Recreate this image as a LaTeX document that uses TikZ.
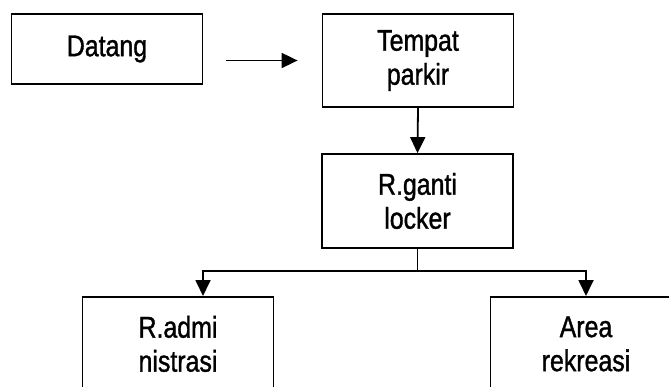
\documentclass[tikz,border=0pt]{standalone}
\usepackage{fontspec}
\setmainfont{Liberation Sans}[FakeStretch=0.83,FakeBold=1.2]
\usetikzlibrary{arrows.meta,calc}

\begin{document}
\begin{tikzpicture}[x=1pt,y=1pt,
    kotak/.style={draw,line width=1.8pt,align=center,minimum width=191pt,
        inner sep=0pt,font=\fontsize{30}{34}\selectfont},
    panah/.style={line width=1.8pt,-{Triangle[length=16pt,width=15pt]}}]
                \useasboundingbox (0,0) rectangle (669,386);
                \node[kotak,minimum height=70pt](dtg)at(107,337){Datang};
                \node[kotak,minimum height=93pt](tmp)at(418,325.5){Tempat\\parkir};
                \node[kotak,minimum height=94pt](rgl)at(417.5,185){R.ganti\\locker};
                \node[kotak,minimum height=94pt,anchor=north](adm)at(178,90){R.admi\\nistrasi};
                \node[kotak,minimum height=94pt,anchor=north](rek)at(586,90){Area\\rekreasi};%terpotong
                \draw[panah]($(dtg.east|-tmp.west)+(23,0)$)--($(tmp.west)+(-24,0)$);
                \draw[panah](tmp.south)--(rgl.north);
                \draw[panah](rgl.south)--++(0,-22)-|([xshift=25pt]adm.north);
                \draw[panah](rgl.south)--++(0,-22)-|(rek.north);
                \end{tikzpicture}
\end{document}
